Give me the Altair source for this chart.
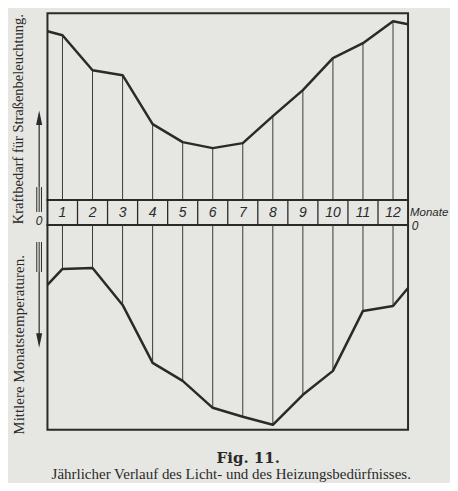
import altair as alt
import pandas as pd

# ---- data ----
months = [1, 2, 3, 4, 5, 6, 7, 8, 9, 10, 11, 12]
month_labels = ["1", "2", "3", "4", "5", "6", "7", "8", "9", "10", "11", "12"]
curve_x = [0.5, 1, 2, 3, 4, 5, 6, 7, 8, 9, 10, 11, 12, 12.5]
# Kraftbedarf für Straßenbeleuchtung (relative height above the month band)
light = [169, 165, 130, 125, 76, 58, 52, 57, 84, 110, 142, 157, 179, 176]
# Mittlere Monatstemperaturen (relative depth below the month band)
temp = [60, 44, 43, 80, 138, 156, 183, 192, 200, 170, 146, 86, 81, 63]
dividers = [1.5, 2.5, 3.5, 4.5, 5.5, 6.5, 7.5, 8.5, 9.5, 10.5, 11.5]

curve_df = pd.DataFrame({"Monat": curve_x, "Licht": light, "Temp": temp})
month_df = curve_df[curve_df["Monat"].isin(months)].copy()
month_df["Label"] = month_labels
div_df = pd.DataFrame({"Monat": dividers})
one = pd.DataFrame({"k": [0]})

INK = "#2a2a2a"
INK2 = "#3a3a3a"
BG = "#e6e6e2"
W, H_TOP, H_BAND, H_BOT = 361, 187, 25, 205

xs = alt.Scale(domain=[0.5, 12.5], nice=False, zero=False)
ys_top = alt.Scale(domain=[0, H_TOP], nice=False, zero=False)
ys_bot = alt.Scale(domain=[0, H_BOT], nice=False, zero=False, reverse=True)


def X():
    return alt.X("Monat:Q", scale=xs, axis=None)


def vrule(x, y1, y2, w=1.2):
    return alt.Chart(one).mark_rule(color=INK, strokeWidth=w).encode(
        x=alt.value(x), y=alt.value(y1), y2=alt.value(y2))


def head(x, y, up=True):
    shape = "M0,-1L0.42,1L-0.42,1Z" if up else "M0,1L0.42,-1L-0.42,-1Z"
    return alt.Chart(one).mark_point(shape=shape, filled=True, size=210,
                                     color=INK, opacity=1).encode(
        x=alt.value(x), y=alt.value(y))


def label(text, x, y, **kw):
    return alt.Chart(one).mark_text(text=text, color=INK, **kw).encode(
        x=alt.value(x), y=alt.value(y))


# ---- top panel ----
top = alt.layer(
    alt.Chart(month_df).mark_rule(color=INK2, strokeWidth=1).encode(
        x=X(), y=alt.Y("Licht:Q", scale=ys_top, axis=None), y2=alt.datum(0)),
    alt.Chart(curve_df).mark_line(color=INK, strokeWidth=2.5, strokeJoin="round").encode(
        x=X(), y=alt.Y("Licht:Q", scale=ys_top, axis=None)),
    label("Kraftbedarf für Straßenbeleuchtung.", -28, 106, angle=270,
          font="Liberation Serif", fontSize=14.5),
    vrule(-8.3, 104, 174),
    head(-8.3, 104.5, up=True),
    vrule(-10.7, 174, 199, 1), vrule(-8.3, 174, 199, 1), vrule(-6, 174, 199, 1),
).properties(width=W, height=H_TOP)

# ---- month band ----
band = alt.layer(
    alt.Chart(div_df).mark_rule(color=INK, strokeWidth=1.3).encode(x=X()),
    alt.Chart(month_df).mark_text(font="Liberation Sans", fontStyle="italic",
                                  fontSize=14, color=INK).encode(
        x=X(), y=alt.value(12.5), text="Label:N"),
    label("Monate", 363, 13, align="left", font="Liberation Sans",
          fontStyle="italic", fontSize=11.5),
    label("0", 368, 26, font="Liberation Sans", fontStyle="italic", fontSize=12),
    label("0", -8.5, 20.5, font="Liberation Sans", fontStyle="italic", fontSize=12),
).properties(width=W, height=H_BAND)

# ---- bottom panel ----
bottom = alt.layer(
    alt.Chart(month_df).mark_rule(color=INK2, strokeWidth=1).encode(
        x=X(), y=alt.Y("Temp:Q", scale=ys_bot, axis=None), y2=alt.datum(0)),
    alt.Chart(curve_df).mark_line(color=INK, strokeWidth=2.5, strokeJoin="round").encode(
        x=X(), y=alt.Y("Temp:Q", scale=ys_bot, axis=None)),
    label("Mittlere Monatstemperaturen.", -28, 120, angle=270,
          font="Liberation Serif", fontSize=15),
    vrule(-10.7, 17, 47, 1), vrule(-8.3, 17, 47, 1), vrule(-6, 17, 47, 1),
    vrule(-8.3, 47, 116),
    head(-8.3, 115.5, up=False),
    label("Fig. 11.", 201, 238, baseline="alphabetic", font="DejaVu Serif",
          fontWeight="bold", fontSize=15),
    label("Jährlicher Verlauf des Licht- und des Heizungsbedürfnisses.", 184, 254,
          baseline="alphabetic", font="Liberation Serif", fontSize=15),
).properties(width=W, height=H_BOT)

chart = alt.vconcat(top, band, bottom, spacing=0, bounds="flush").configure_view(
    stroke=INK, strokeWidth=2
).properties(
    background=BG,
    padding={"left": 1.5, "top": 4, "right": 0, "bottom": 0},
)

chart.save("out.html", embed_options={"renderer": "svg", "actions": False})
